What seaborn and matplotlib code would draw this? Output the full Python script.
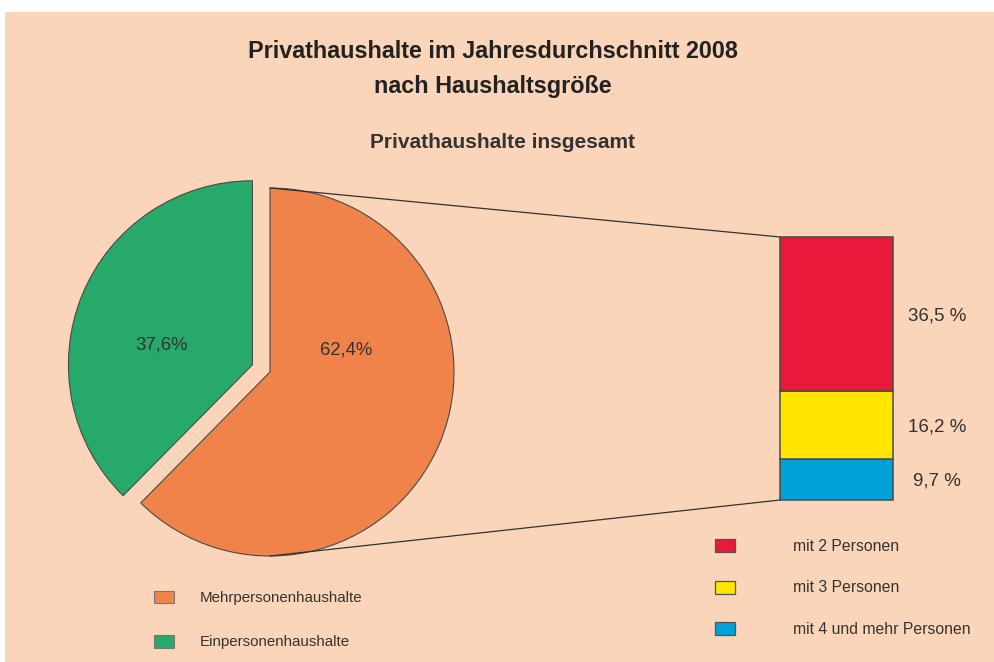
import matplotlib
matplotlib.use("Agg")
import matplotlib.pyplot as plt
import seaborn as sns
from matplotlib.patches import Patch, Rectangle
from matplotlib.patches import ConnectionPatch

# ---- data ----
pie_labels = ["Mehrpersonenhaushalte", "Einpersonenhaushalte"]
pie_values = [62.4, 37.6]
pie_colors = ["#F0834A", "#27A96A"]

bar_labels = ["mit 2 Personen", "mit 3 Personen", "mit 4 und mehr Personen"]
bar_values = [36.5, 16.2, 9.7]
bar_colors = ["#E8193A", "#FFE500", "#00A0D8"]

title_lines = ["Privathaushalte im Jahresdurchschnitt 2008", "nach Haushaltsgröße"]
subtitle = "Privathaushalte insgesamt"

sns.set_theme(style="white")
plt.rcParams["font.family"] = ["Liberation Sans", "DejaVu Sans"]

W, H = 994, 662
BG = "#FAD5BA"
TXT = "#333333"
EDGE = "#4a4a4a"

fig = plt.figure(figsize=(W / 100, H / 100), dpi=100, facecolor="white")
fig.patches.append(Rectangle((5 / W, 0), 1 - 5 / W, 1 - 12 / H,
                             transform=fig.transFigure, facecolor=BG,
                             edgecolor="none", zorder=-10))

# main axes in pixel coordinates (y up)
ax = fig.add_axes([0, 0, 1, 1])
ax.patch.set_alpha(0)

cx, cy, r = 270, H - 372, 184
ax.pie(pie_values, colors=pie_colors, startangle=90, counterclock=False,
       explode=[0, 19], center=(cx, cy), radius=r,
       wedgeprops=dict(edgecolor=EDGE, linewidth=0.8))
ax.set_xlim(0, W)
ax.set_ylim(0, H)
ax.set_aspect("equal")
ax.axis("off")

# slice labels
ax.text(346, H - 350, f"{pie_values[0]:.1f}%".replace(".", ","), ha="center",
        va="center", fontsize=13.3, color=TXT)
ax.text(161, H - 345, f"{pie_values[1]:.1f}%".replace(".", ","), ha="center",
        va="center", fontsize=13.3, color=TXT)

# titles
ax.text(493, H - 52, title_lines[0], ha="center", va="center", fontsize=16.8,
        fontweight="bold", color="#222222")
ax.text(493, H - 87, title_lines[1], ha="center", va="center", fontsize=16.8,
        fontweight="bold", color="#222222")
ax.text(502, H - 143, subtitle, ha="center", va="center", fontsize=15,
        fontweight="bold", color="#333333")

# stacked bar
bx0, bx1, by_top, by_bot = 780, 893, 237, 500
bax = fig.add_axes([bx0 / W, (H - by_bot) / H, (bx1 - bx0) / W, (by_bot - by_top) / H])
bax.patch.set_alpha(0)
total = sum(bar_values)
bottom = 0.0
for lab, val, col in reversed(list(zip(bar_labels, bar_values, bar_colors))):
    bars = bax.bar(0, val, bottom=bottom, width=1.0, color=col, edgecolor=EDGE,
                   linewidth=1.1)
    for b in bars:
        b.set_clip_on(False)
    bax.text(1.39, bottom + val / 2 - 0.45, f"{val:.1f} %".replace(".", ","),
             transform=bax.get_yaxis_transform(), ha="center", va="center",
             fontsize=13.5, color=TXT)
    bottom += val
bax.set_xlim(-0.5, 0.5)
bax.set_ylim(0, total)
bax.axis("off")

# connector lines
for (px, py), (qx, qy) in [((cx, cy + r), (-0.5, total)), ((cx, cy - r), (-0.5, 0))]:
    con = ConnectionPatch(xyA=(px, py), coordsA=ax.transData,
                          xyB=(qx, qy), coordsB=bax.transData,
                          color="#333333", linewidth=0.9)
    fig.add_artist(con)

# legends
fs1 = 10.9
h1 = [Patch(facecolor=c, edgecolor="#777777", linewidth=0.8) for c in pie_colors]
leg1 = fig.legend(h1, pie_labels, loc="center left",
                  bbox_to_anchor=(154 / W, (H - 620) / H), frameon=False,
                  fontsize=fs1, labelcolor=TXT, handlelength=20 / fs1 * 0.72,
                  handleheight=14 / fs1 * 0.72,
                  handletextpad=26 / fs1 * 0.72, labelspacing=1.95,
                  borderpad=0, borderaxespad=0)

fs2 = 11.3
h2 = [Patch(facecolor=c, edgecolor="#555555", linewidth=0.9) for c in bar_colors]
leg2 = fig.legend(h2, bar_labels, loc="center left",
                  bbox_to_anchor=(715 / W, (H - 588) / H), frameon=False,
                  fontsize=fs2, labelcolor=TXT, handlelength=20 / fs2 * 0.72,
                  handleheight=14 / fs2 * 0.72,
                  handletextpad=58 / fs2 * 0.72, labelspacing=1.7,
                  borderpad=0, borderaxespad=0)

fig.savefig("out.png", dpi=100, facecolor="white")
